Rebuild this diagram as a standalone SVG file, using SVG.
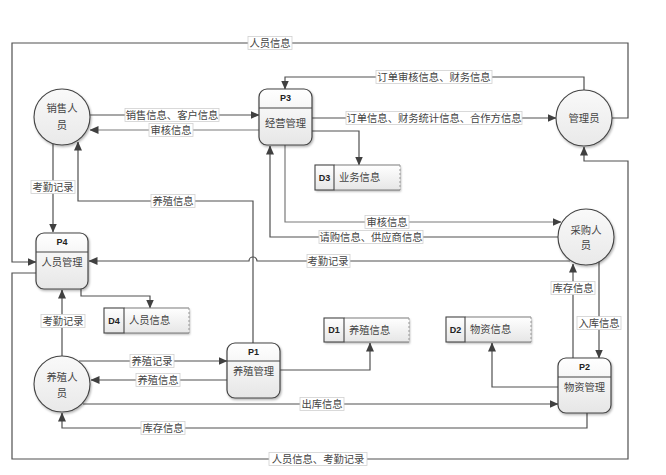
<svg xmlns="http://www.w3.org/2000/svg" width="666" height="475" viewBox="0 0 666 475">
<defs>
<style>
.c{fill:none;stroke:#505050;stroke-width:1.2}
.cl{fill:none;stroke:#7a7a7a;stroke-width:1.2}
.lb{fill:#fff;stroke:#d0d0d0;stroke-width:0.8}
.t{font-family:"Liberation Sans","Noto Sans CJK SC",sans-serif;font-size:10.3px;fill:#444;text-anchor:middle;dominant-baseline:central}
.tl{font-family:"Liberation Sans","Noto Sans CJK SC",sans-serif;font-size:10.3px;fill:#444;dominant-baseline:central}
.id{font-family:"Liberation Sans","Noto Sans CJK SC",sans-serif;font-size:9px;font-weight:bold;fill:#222;text-anchor:middle;dominant-baseline:central}
.proc{fill:url(#gp);stroke:#444;stroke-width:1.2;filter:url(#sh)}
.circ{fill:url(#gc);stroke:#444;stroke-width:1.1;filter:url(#sh)}
.ds{fill:url(#gp);stroke:none;filter:url(#sh)}
.dsl{stroke:#7a7a7a;stroke-width:1;fill:none}
.dsd{stroke:#999;stroke-width:1;stroke-dasharray:2,2;fill:none}
.dsc{fill:none;stroke:#444;stroke-width:1.1}
</style>
<linearGradient id="gp" x1="0" y1="0" x2="0" y2="1"><stop offset="0" stop-color="#ffffff"/><stop offset="1" stop-color="#e6e6e6"/></linearGradient>
<linearGradient id="gc" x1="0" y1="0" x2="0" y2="1"><stop offset="0" stop-color="#f9f9f9"/><stop offset="1" stop-color="#e9e9e9"/></linearGradient>
<filter id="sh" x="-20%" y="-20%" width="140%" height="140%"><feDropShadow dx="1" dy="1.5" stdDeviation="1" flood-color="#000" flood-opacity="0.3"/></filter>
<marker id="a" markerWidth="9" markerHeight="8" refX="8.5" refY="4" orient="auto" markerUnits="userSpaceOnUse"><path d="M0,0 L9,4 L0,8 z" fill="#404040"/></marker>
</defs>

<g id="connectors">
<path class="c" d="M612,118 H628 V43 H12 V262 H36" marker-end="url(#a)"/>
<path class="c" d="M584,90 V77 H285 V89" marker-end="url(#a)"/>
<path class="c" d="M312,118 H556" marker-end="url(#a)"/>
<path class="c" d="M90,115 H259" marker-end="url(#a)"/>
<path class="cl" d="M259,130 H90" marker-end="url(#a)"/>
<path class="c" d="M312,131 H359 V165" marker-end="url(#a)"/>
<path class="cl" d="M285,145 V222 H561" marker-end="url(#a)"/>
<path class="c" d="M558,237 H270 V146" marker-end="url(#a)"/>
<path class="c" d="M570,261 H257 A4,4 0 0 0 249,261 H89" marker-end="url(#a)"/>
<path class="c" d="M573,358 V264" marker-end="url(#a)"/>
<path class="c" d="M599,262 V358" marker-end="url(#a)"/>
<path class="c" d="M558,387 H492 V343" marker-end="url(#a)"/>
<path class="c" d="M36,273 H12 V459 H628 V161 H584 V147" marker-end="url(#a)"/>
<path class="c" d="M53,144 V232" marker-end="url(#a)"/>
<path class="c" d="M253,343 V201 H78 V142" marker-end="url(#a)"/>
<path class="c" d="M81,289 V296 H150 V308" marker-end="url(#a)"/>
<path class="c" d="M62,356 V290" marker-end="url(#a)"/>
<path class="c" d="M79,361 H227" marker-end="url(#a)"/>
<path class="c" d="M227,380 H91" marker-end="url(#a)"/>
<path class="c" d="M280,370 H370 V343" marker-end="url(#a)"/>
<path class="c" d="M83,404 H558" marker-end="url(#a)"/>
<path class="c" d="M587,413 V428 H62 V413" marker-end="url(#a)"/>

<rect class="lb" x="248" y="36.5" width="44" height="13"/><text class="t" x="270" y="43">人员信息</text>
<rect class="lb" x="376" y="70.5" width="116" height="13"/><text class="t" x="434" y="77">订单审核信息、财务信息</text>
<rect class="lb" x="346" y="111.5" width="176" height="13"/><text class="t" x="434" y="118">订单信息、财务统计信息、合作方信息</text>
<rect class="lb" x="125" y="108.5" width="94" height="13"/><text class="t" x="172" y="115">销售信息、客户信息</text>
<rect class="lb" x="149" y="123.5" width="44" height="13"/><text class="t" x="171" y="130">审核信息</text>
<rect class="lb" x="365" y="215.5" width="44" height="13"/><text class="t" x="387" y="222">审核信息</text>
<rect class="lb" x="319" y="230.5" width="104" height="13"/><text class="t" x="371" y="237">请购信息、供应商信息</text>
<rect class="lb" x="307" y="254.5" width="43" height="13"/><text class="t" x="328" y="261">考勤记录</text>
<rect class="lb" x="551" y="281.5" width="44" height="13"/><text class="t" x="573" y="288">库存信息</text>
<rect class="lb" x="577" y="316.5" width="44" height="13"/><text class="t" x="599" y="323">入库信息</text>
<rect class="lb" x="269" y="452.5" width="98" height="13"/><text class="t" x="318" y="459">人员信息、考勤记录</text>
<rect class="lb" x="31" y="180.5" width="44" height="13"/><text class="t" x="53" y="187">考勤记录</text>
<rect class="lb" x="151" y="194.5" width="44" height="13"/><text class="t" x="173" y="201">养殖信息</text>
<rect class="lb" x="41" y="314.5" width="44" height="13"/><text class="t" x="63" y="321">考勤记录</text>
<rect class="lb" x="130" y="354.5" width="44" height="13"/><text class="t" x="152" y="361">养殖记录</text>
<rect class="lb" x="136" y="373.5" width="44" height="13"/><text class="t" x="158" y="380">养殖信息</text>
<rect class="lb" x="300" y="397.5" width="44" height="13"/><text class="t" x="322" y="404">出库信息</text>
<rect class="lb" x="141" y="421.5" width="44" height="13"/><text class="t" x="163" y="428">库存信息</text>
</g>

<g id="n-xiaoshou"><circle class="circ" cx="62" cy="117" r="28"/><text class="t" x="62" y="108">销售人</text><text class="t" x="62" y="125">员</text></g>
<g id="n-guanli"><circle class="circ" cx="584" cy="118" r="28"/><text class="t" x="584" y="118">管理员</text></g>
<g id="n-caigou"><circle class="circ" cx="586" cy="237" r="28"/><text class="t" x="586" y="230">采购人</text><text class="t" x="586" y="245">员</text></g>
<g id="n-yangzhi"><circle class="circ" cx="62" cy="384" r="28"/><text class="t" x="62" y="377">养殖人</text><text class="t" x="62" y="393">员</text></g>

<g id="p3"><rect class="proc" x="259" y="89" width="53" height="56" rx="8"/><line class="dsc" x1="259" y1="108" x2="312" y2="108"/><text class="id" x="285.5" y="98">P3</text><text class="t" x="285.5" y="123">经营管理</text></g>
<g id="p4"><rect class="proc" x="36" y="233" width="52" height="56" rx="8"/><line class="dsc" x1="36" y1="252" x2="88" y2="252"/><text class="id" x="62" y="242">P4</text><text class="t" x="62" y="262">人员管理</text></g>
<g id="p1"><rect class="proc" x="227" y="343" width="53" height="55" rx="8"/><line class="dsc" x1="227" y1="361" x2="280" y2="361"/><text class="id" x="253.5" y="352">P1</text><text class="t" x="253.5" y="371">养殖管理</text></g>
<g id="p2"><rect class="proc" x="558" y="358" width="53" height="55" rx="8"/><line class="dsc" x1="558" y1="377" x2="611" y2="377"/><text class="id" x="584.5" y="367">P2</text><text class="t" x="584.5" y="387">物资管理</text></g>

<g id="d3"><rect class="ds" x="315" y="165" width="85" height="25"/><path class="dsl" d="M334,165 H400 M334,190 H400"/><path class="dsd" d="M400,165 V190"/><rect class="dsc" x="315" y="165" width="19" height="25"/><text class="id" x="324.5" y="177.5">D3</text><text class="tl" x="339" y="177.5">业务信息</text></g>
<g id="d4"><rect class="ds" x="104" y="308" width="85" height="25"/><path class="dsl" d="M124,308 H189 M124,333 H189"/><path class="dsd" d="M189,308 V333"/><rect class="dsc" x="104" y="308" width="20" height="25"/><text class="id" x="114" y="320.5">D4</text><text class="tl" x="129" y="320.5">人员信息</text></g>
<g id="d1"><rect class="ds" x="324" y="318" width="85" height="24"/><path class="dsl" d="M344,318 H409 M344,342 H409"/><path class="dsd" d="M409,318 V342"/><rect class="dsc" x="324" y="318" width="20" height="24"/><text class="id" x="334" y="330">D1</text><text class="tl" x="349" y="330">养殖信息</text></g>
<g id="d2"><rect class="ds" x="446" y="317" width="85" height="25"/><path class="dsl" d="M465,317 H531 M465,342 H531"/><path class="dsd" d="M531,317 V342"/><rect class="dsc" x="446" y="317" width="19" height="25"/><text class="id" x="455.5" y="329.5">D2</text><text class="tl" x="470" y="329.5">物资信息</text></g>
</svg>
